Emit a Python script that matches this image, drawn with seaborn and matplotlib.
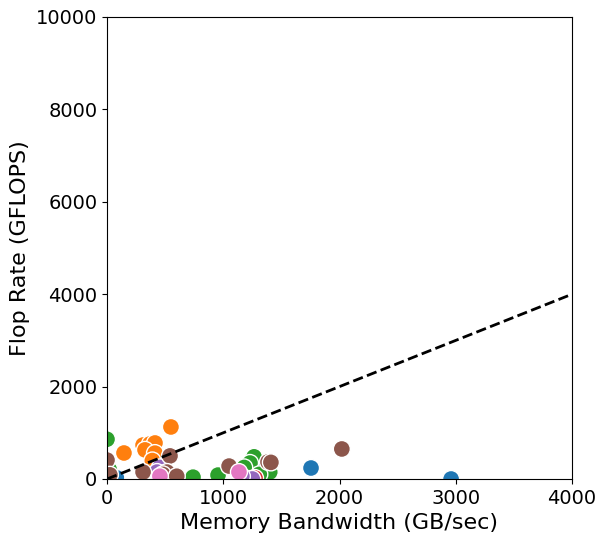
import matplotlib
matplotlib.use("Agg")
import matplotlib.pyplot as plt
import seaborn as sns
import pandas as pd

# Data per system (memory bandwidth GB/s, flop rate GFLOPS)
sys_a_bw = [1755, 2960, 1300, 80]
sys_a_fl = [238, 0, 300, 30]
sys_b_bw = [146, 550, 310, 370, 413, 327, 413, 390]
sys_b_fl = [563, 1126, 735, 760, 780, 630, 560, 400]
sys_c_bw = [0, 740, 955, 1265, 1230, 1400, 1310, 1180, 20]
sys_c_fl = [860, 40, 85, 480, 346, 150, 100, 250, 200]
sys_d_bw = [1273, 1240]
sys_d_fl = [20, 0]
sys_e_bw = [455, 430, 1250, 1160]
sys_e_fl = [250, 150, 0, 60]
sys_f_bw = [0, 310, 542, 516, 480, 1050, 1385, 2020, 25, 1410, 600]
sys_f_fl = [410, 150, 500, 150, 100, 280, 370, 650, 90, 360, 60]
sys_g_bw = [455, 1135]
sys_g_fl = [60, 150]

systems = ["A", "B", "C", "D", "E", "F", "G"]
bw_lists = [sys_a_bw, sys_b_bw, sys_c_bw, sys_d_bw, sys_e_bw, sys_f_bw, sys_g_bw]
fl_lists = [sys_a_fl, sys_b_fl, sys_c_fl, sys_d_fl, sys_e_fl, sys_f_fl, sys_g_fl]

rows = []
for name, bws, fls in zip(systems, bw_lists, fl_lists):
    for b, f in zip(bws, fls):
        rows.append({"System": name, "bw": b, "flops": f})
df = pd.DataFrame(rows)

fig = plt.figure(figsize=(6.06, 5.43), dpi=100)
ax = fig.add_axes([107/606, 1-479/543, (572-107)/606, (479-17)/543])

sns.scatterplot(data=df, x="bw", y="flops", hue="System", hue_order=systems,
                palette="tab10", s=150, edgecolor="white", linewidth=1,
                legend=False, ax=ax)

line_x = [0, 4000]
ax.plot(line_x, line_x, "k--", linewidth=2)

ax.set_xlim(0, 4000)
ax.set_ylim(0, 10000)
ax.set_xticks([0, 1000, 2000, 3000, 4000])
ax.set_yticks([0, 2000, 4000, 6000, 8000, 10000])
ax.tick_params(labelsize=14)
ax.set_xlabel("Memory Bandwidth (GB/sec)", fontsize=16)
ax.set_ylabel("Flop Rate (GFLOPS)", fontsize=16)

fig.savefig("out.png", dpi=100)
